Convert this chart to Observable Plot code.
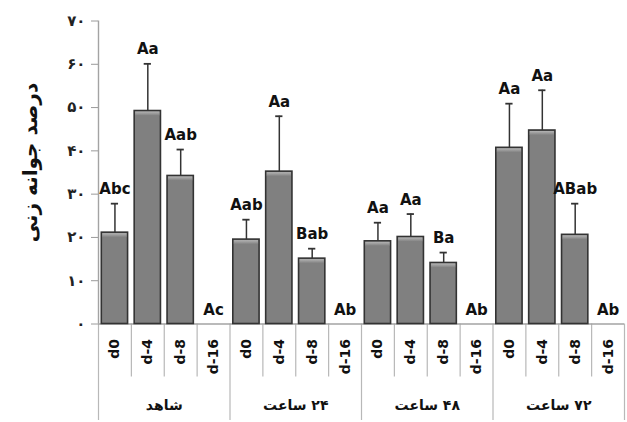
<!DOCTYPE html>
<html>
<head>
<meta charset="utf-8">
<script src="https://cdn.jsdelivr.net/npm/d3@7"></script>
<script src="https://cdn.jsdelivr.net/npm/@observablehq/plot@0.6"></script>
<style>
  body { margin: 0; background: #fff; }
  #chart svg { display: block; }
  #chart g[aria-label="y-axis tick"] { stroke: #9a9a9a; }
  #chart g[aria-label="y-axis tick label"] { font-size: 15px; font-weight: bold; }
</style>
</head>
<body>
<svg width="0" height="0" style="position:absolute">
  <defs>
    <linearGradient id="bar-shine" x1="0" y1="0" x2="0" y2="1">
      <stop offset="0" stop-color="#b4b4b4"/>
      <stop offset="1" stop-color="#818181"/>
    </linearGradient>
  </defs>
</svg>
<div id="chart"></div>
<script>
// Priming groups (hours) and storage treatments within each group
const groups = ["شاهد", "۲۴ ساعت", "۴۸ ساعت", "۷۲ ساعت"];
const treatments = ["d0", "d-4", "d-8", "d-16"];

// Mean germination percentage per treatment, one array per group
const controlMean = [21.1, 49.2, 34.2, 0];
const h24Mean = [19.5, 35.2, 15.1, 0];
const h48Mean = [19.1, 20.1, 14.1, 0];
const h72Mean = [40.7, 44.7, 20.6, 0];

// Upper error bar length per treatment
const controlErr = [6.7, 10.9, 6.1, 0];
const h24Err = [4.6, 12.8, 2.3, 0];
const h48Err = [4.3, 5.3, 2.4, 0];
const h72Err = [10.2, 9.3, 7.2, 0];

// Mean-comparison letters
const controlLetters = ["Abc", "Aa", "Aab", "Ac"];
const h24Letters = ["Aab", "Aa", "Bab", "Ab"];
const h48Letters = ["Aa", "Aa", "Ba", "Ab"];
const h72Letters = ["Aa", "Aa", "ABab", "Ab"];

// Y axis ticks
const yTicks = [0, 10, 20, 30, 40, 50, 60, 70];
const yLabel = "درصد جوانه زنی";

const means = [controlMean, h24Mean, h48Mean, h72Mean];
const errs = [controlErr, h24Err, h48Err, h72Err];
const letters = [controlLetters, h24Letters, h48Letters, h72Letters];

const perGroup = treatments.length;
const rows = groups.flatMap((g, gi) =>
  treatments.map((t, ti) => ({
    group: g,
    treatment: t,
    slot: gi * perGroup + ti,
    mean: means[gi][ti],
    upper: means[gi][ti] + errs[gi][ti],
    letter: letters[gi][ti]
  }))
);
const bars = rows.filter((d) => d.mean > 0);
const slotCount = rows.length;
const slotEdges = d3.range(0, slotCount + 1).filter((e) => e % perGroup !== 0);
const groupEdges = d3.range(0, slotCount + 1, perGroup);

const persianDigits = "۰۱۲۳۴۵۶۷۸۹";
const toPersian = (n) => String(n).replace(/\d/g, (c) => persianDigits[+c]);

const font = "'DejaVu Sans', sans-serif";
const lineGray = "#a3a3a3";

const chart = Plot.plot({
  width: 627,
  height: 422,
  marginLeft: 98,
  marginRight: 3,
  marginTop: 20.5,
  marginBottom: 98.5,
  style: { fontFamily: font, background: "#fff", color: "#111", overflow: "visible" },
  x: { domain: [0, slotCount], axis: null },
  y: { domain: [0, 70], axis: null },
  marks: [
    // category table under the axis
    Plot.ruleX(slotEdges, { x: (d) => d, y1: 0, y2: 0, insetBottom: -53, stroke: "#b8b8b8", strokeWidth: 1.2 }),
    Plot.ruleX(groupEdges, { x: (d) => d, y1: 0, y2: 0, insetBottom: -96.5, stroke: "#b8b8b8", strokeWidth: 1.2 }),
    // axis lines
    Plot.ruleY([0], { stroke: lineGray, strokeWidth: 1.4 }),
    Plot.ruleX([0], { y1: 0, y2: 70, stroke: lineGray, strokeWidth: 1.4 }),
    Plot.axisY({
      ticks: yTicks,
      tickSize: 7,
      tickPadding: 6,
      tickFormat: toPersian,
      label: null,
      fontSize: 15,
      fontWeight: "bold",
      fill: "#222"
    }),
    // bars
    Plot.rect(bars, {
      x1: "slot",
      x2: (d) => d.slot + 1,
      y1: 0,
      y2: "mean",
      insetLeft: 3.3,
      insetRight: 3.3,
      fill: "#808080",
      stroke: "#333",
      strokeWidth: 1.6
    }),
    // light band along the top of each bar
    Plot.rect(bars, {
      x1: "slot",
      x2: (d) => d.slot + 1,
      y1: "mean",
      y2: "mean",
      insetLeft: 4.3,
      insetRight: 4.3,
      insetTop: 1,
      insetBottom: -5,
      fill: "url(#bar-shine)"
    }),
    // error bars with caps
    Plot.ruleX(bars, { x: (d) => d.slot + 0.5, y1: "mean", y2: "upper", stroke: "#333", strokeWidth: 1.5 }),
    Plot.ruleY(bars, { y: "upper", x1: (d) => d.slot + 0.39, x2: (d) => d.slot + 0.61, stroke: "#333", strokeWidth: 1.8 }),
    // letters
    Plot.text(rows, {
      x: (d) => d.slot + 0.5,
      y: "upper",
      text: "letter",
      lineAnchor: "bottom",
      dy: -9.5,
      fontSize: 15,
      fontWeight: "bold",
      fill: "#111"
    }),
    // treatment labels
    Plot.text(rows, {
      x: (d) => d.slot + 0.5,
      text: "treatment",
      frameAnchor: "bottom",
      rotate: -90,
      textAnchor: "end",
      lineAnchor: "middle",
      dy: 15,
      fontSize: 14,
      fontWeight: "bold",
      fill: "#111"
    }),
    // group labels
    Plot.text(groups, {
      x: (d, i) => i * perGroup + perGroup / 2,
      text: (d) => "\u200F" + d,
      frameAnchor: "bottom",
      lineAnchor: "middle",
      dy: 82,
      fontSize: 14,
      fontWeight: "bold",
      fill: "#111"
    }),
    // y axis title
    Plot.text([yLabel], {
      text: (d) => d,
      frameAnchor: "left",
      textAnchor: "middle",
      lineAnchor: "middle",
      rotate: -90,
      dx: -68,
      dy: -10,
      fontSize: 20,
      fontWeight: "bold",
      fill: "#111"
    })
  ]
});

document.getElementById("chart").appendChild(chart);
</script>
</body>
</html>
